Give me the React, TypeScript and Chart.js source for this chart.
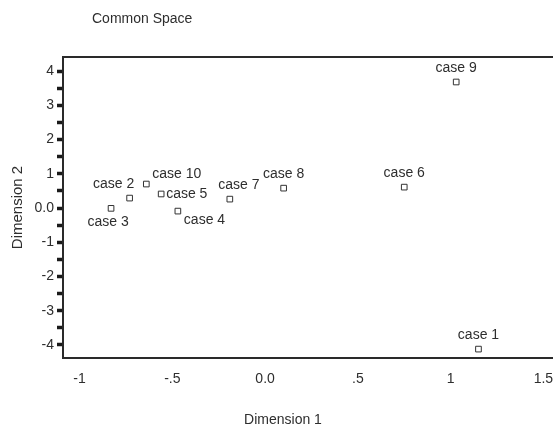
import React, { useEffect, useRef } from "react";
import { Chart, registerables } from "chart.js";

Chart.register(...registerables);

const caseNames = ["case 1", "case 2", "case 3", "case 4", "case 5", "case 6", "case 7", "case 8", "case 9", "case 10"];
const dimension1 = [1.15, -0.73, -0.83, -0.47, -0.56, 0.75, -0.19, 0.1, 1.03, -0.64];
const dimension2 = [-4.12, 0.29, -0.01, -0.09, 0.41, 0.61, 0.26, 0.58, 3.68, 0.7];
const labelPlacement = ["above", "aboveLeft", "below", "belowRight", "right", "above", "aboveRight", "above", "above", "rightUp"];

const xTickValues = [-1, -0.5, 0, 0.5, 1, 1.5];
const xTickLabels = ["-1", "-.5", "0.0", ".5", "1", "1.5"];
const yTickValues = [4, 3.5, 3, 2.5, 2, 1.5, 1, 0.5, 0, -0.5, -1, -1.5, -2, -2.5, -3, -3.5, -4];
const yTickLabels = ["4", "", "3", "", "2", "", "1", "", "0.0", "", "-1", "", "-2", "", "-3", "", "-4"];

const chartTitle = "Common Space";
const xTitle = "Dimension 1";
const yTitle = "Dimension 2";

const FONT_FAMILY = "'Liberation Sans', Arial, Helvetica, sans-serif";
const TEXT_COLOR = "#2e2e2e";

const overlayPlugin = {
  id: "overlay",
  afterDatasetsDraw(chart: any) {
    const ctx = chart.ctx as CanvasRenderingContext2D;
    const { left, top, right, bottom } = chart.chartArea;
    ctx.save();
    // frame
    ctx.strokeStyle = "#2a2a2a";
    ctx.lineWidth = 2;
    ctx.strokeRect(left, top, right - left, bottom - top);

    // point labels
    ctx.font = `14px ${FONT_FAMILY}`;
    ctx.fillStyle = TEXT_COLOR;
    ctx.textBaseline = "middle";
    const meta = chart.getDatasetMeta(0);
    meta.data.forEach((pt: any, i: number) => {
      const x = pt.x;
      const y = pt.y;
      let tx = x;
      let ty = y - 14;
      let align: CanvasTextAlign = "center";
      switch (labelPlacement[i]) {
        case "aboveLeft":
          tx = x - 16;
          ty = y - 14;
          break;
        case "aboveRight":
          tx = x + 9;
          ty = y - 14;
          break;
        case "below":
          tx = x - 3;
          ty = y + 14;
          break;
        case "belowRight":
          tx = x + 6;
          ty = y + 9;
          align = "left";
          break;
        case "right":
          tx = x + 5;
          ty = y;
          align = "left";
          break;
        case "rightUp":
          tx = x + 6;
          ty = y - 10;
          align = "left";
          break;
        default:
          break;
      }
      ctx.textAlign = align;
      ctx.fillText(caseNames[i], tx, ty);
    });

    // chart title
    ctx.textAlign = "left";
    ctx.font = `14px ${FONT_FAMILY}`;
    ctx.fillText(chartTitle, 92, 19);

    // x title
    ctx.textAlign = "center";
    ctx.font = `14px ${FONT_FAMILY}`;
    ctx.fillText(xTitle, 283, 420);
    ctx.restore();
  },
};

export default function App() {
  const canvasRef = useRef<HTMLCanvasElement | null>(null);

  useEffect(() => {
    const canvas = canvasRef.current;
    if (!canvas) return;
    const points = dimension1.map((v, i) => ({ x: v, y: dimension2[i] }));
    const chart = new Chart(canvas, {
      type: "scatter",
      data: {
        datasets: [
          {
            label: "Common Space",
            data: points,
            pointStyle: "rect",
            pointRadius: 4,
            pointBorderWidth: 1,
            pointBackgroundColor: "#ffffff",
            pointBorderColor: "#333333",
          },
        ],
      },
      options: {
        responsive: false,
        animation: false,
        layout: { padding: { top: 57, left: 0, right: 0, bottom: 0 } },
        plugins: {
          legend: { display: false },
          tooltip: { enabled: false },
          title: { display: false },
        },
        scales: {
          x: {
            type: "linear",
            position: "bottom",
            min: -1.089,
            max: 1.778,
            afterBuildTicks: (s: any) => {
              s.ticks = xTickValues.map((v) => ({ value: v }));
            },
            afterFit: (s: any) => {
              s.height = 72;
            },
            ticks: {
              autoSkip: false,
              maxRotation: 0,
              padding: 13,
              color: TEXT_COLOR,
              font: { family: FONT_FAMILY, size: 14 },
              callback: (v: any) => xTickLabels[xTickValues.indexOf(Number(v))],
            },
            grid: { drawOnChartArea: false, drawTicks: false },
            border: { display: false },
            title: { display: false },
          },
          y: {
            type: "linear",
            position: "left",
            min: -4.38,
            max: 4.41,
            afterBuildTicks: (s: any) => {
              s.ticks = yTickValues.map((v) => ({ value: v }));
            },
            afterFit: (s: any) => {
              s.width = 63;
            },
            ticks: {
              autoSkip: false,
              padding: 3,
              color: TEXT_COLOR,
              font: { family: FONT_FAMILY, size: 14 },
              callback: (v: any) => yTickLabels[yTickValues.indexOf(Number(v))],
            },
            grid: {
              drawOnChartArea: false,
              drawTicks: true,
              tickLength: 6,
              tickWidth: 3.5,
              tickColor: "#1a1a1a",
            },
            border: { display: false },
            title: {
              display: true,
              text: yTitle,
              color: TEXT_COLOR,
              font: { family: FONT_FAMILY, size: 15 },
              padding: { top: 9, bottom: 0 },
            },
          },
        },
      },
      plugins: [overlayPlugin],
    });
    return () => chart.destroy();
  }, []);

  return (
    <div
      style={{
        position: "fixed",
        left: 0,
        top: 0,
        width: 553,
        height: 430,
        overflow: "hidden",
        background: "#ffffff",
      }}
    >
      <canvas ref={canvasRef} width={600} height={430} style={{ width: 600, height: 430, display: "block" }} />
    </div>
  );
}
